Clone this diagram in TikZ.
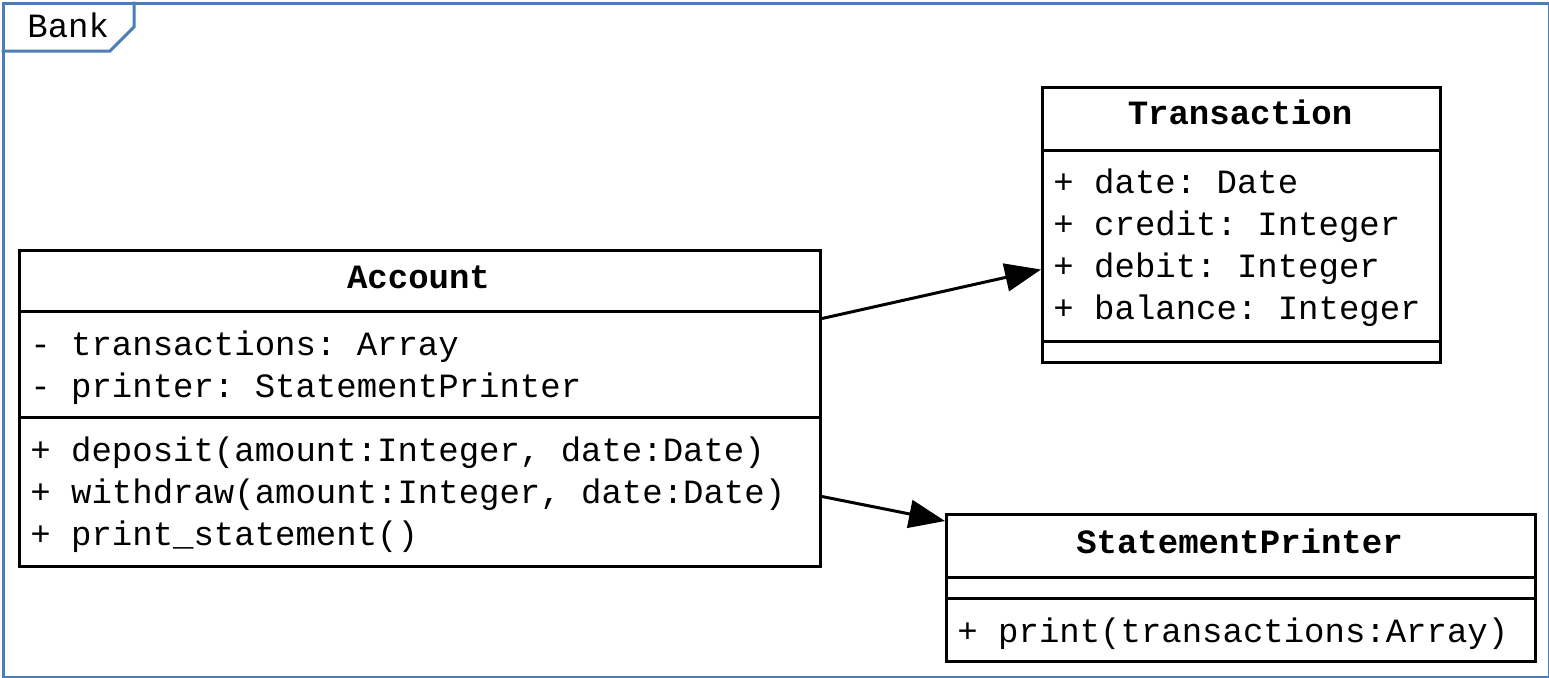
\documentclass[tikz,border=0pt]{standalone}
\usepackage{fontspec}
\setmonofont{Liberation Mono}
\usetikzlibrary{arrows.meta}
\definecolor{frameblue}{RGB}{74,126,181}
\begin{document}
\begin{tikzpicture}[x=0.5pt,y=-0.5pt,
  every node/.style={font=\ttfamily\fontsize{17}{21}\selectfont, inner sep=0pt},
  frame/.style={draw=frameblue, line width=1.5pt},
  umlbox/.style={draw=black, line width=1.5pt, fill=white, anchor=north west},
  member/.style={anchor=base west},
  title/.style={anchor=base, font=\ttfamily\bfseries\fontsize{17}{21}\selectfont},
  rule/.style={draw=black, line width=1.5pt},
  assoc/.style={draw=black, line width=1.5pt, -{Triangle[length=18pt,width=14pt]}}
]
\useasboundingbox (0,0) rectangle (1549,677);
% package frame
\node[frame, anchor=north west, minimum width=773pt, minimum height=337pt] (bank) at (1.5,1.5) {};
\draw[frame] ([yshift=-24.75pt]bank.north west) -- ++(108.5,0) -- ++(24,-24) -- ++(0,-25.5);
\node[member] (banklabel) at (27,37) {Bank};

% Account
\node[umlbox, minimum width=400.5pt, minimum height=158pt] (acc) at (18,249) {};
\draw[rule] (acc.west |- 0,311) -- (acc.east |- 0,311);
\draw[rule] (acc.west |- 0,417) -- (acc.east |- 0,417);
\node[title] (acctitle) at (418.5,288) {Account};
\node[member] (acca1) at (30,355) {- transactions: Array};
\node[member] (acca2) at (30,397) {- printer: StatementPrinter};
\node[member] (accm1) at (30,461) {+ deposit(amount:Integer, date:Date)};
\node[member] (accm2) at (30,503) {+ withdraw(amount:Integer, date:Date)};
\node[member] (accm3) at (30,545) {+ print\_statement()};

% Transaction
\node[umlbox, minimum width=199pt, minimum height=137.5pt] (tra) at (1041,86) {};
\draw[rule] (tra.west |- 0,150) -- (tra.east |- 0,150);
\draw[rule] (tra.west |- 0,341) -- (tra.east |- 0,341);
\node[title] (tratitle) at (1240,124) {Transaction};
\node[member] (traa1) at (1053,193) {+ date: Date};
\node[member] (traa2) at (1053,235) {+ credit: Integer};
\node[member] (traa3) at (1053,277) {+ debit: Integer};
\node[member] (traa4) at (1053,319) {+ balance: Integer};

% StatementPrinter
\node[umlbox, minimum width=294.5pt, minimum height=73.5pt] (sp) at (945,513) {};
\draw[rule] (sp.west |- 0,577) -- (sp.east |- 0,577);
\draw[rule] (sp.west |- 0,598) -- (sp.east |- 0,598);
\node[title] (sptitle) at (1239.5,553) {StatementPrinter};
\node[member] (spm1) at (957,642) {+ print(transactions:Array)};

% associations
\draw[assoc] ([yshift=45pt]acc.east) -- ([yshift=-22.25pt]tra.west);
\draw[assoc] ([yshift=-44pt]acc.east) -- ([yshift=-4pt]sp.north west);
\end{tikzpicture}
\end{document}
